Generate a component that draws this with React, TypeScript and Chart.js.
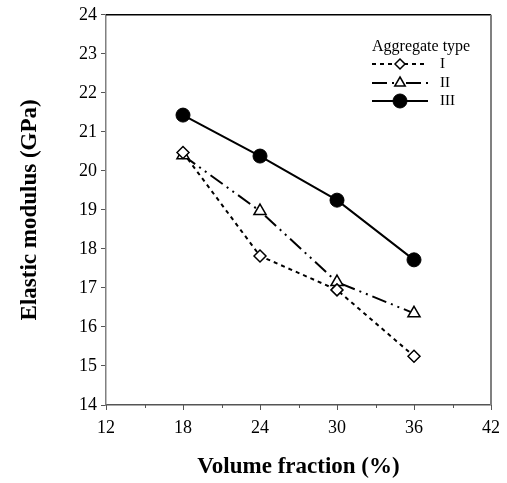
import React, { useEffect, useRef } from "react";
import { Chart, registerables } from "chart.js";

Chart.register(...registerables);

const volumeFraction = [18, 24, 30, 36];
const typeI = [20.47, 17.82, 16.95, 15.25];
const typeII = [20.4, 18.97, 17.15, 16.35];
const typeIII = [21.43, 20.38, 19.25, 17.72];
const seriesLabels = ["I", "II", "III"];
const legendTitle = "Aggregate type";
const xTitle = "Volume fraction (%)";
const yTitle = "Elastic modulus (GPa)";

const toPoints = (ys: number[]) => volumeFraction.map((x, i) => ({ x, y: ys[i] }));

const dashI = [4, 4];
const dashII = [15, 5, 2, 5, 2, 5];

const frameAndLegend = {
  id: "frameAndLegend",
  afterDraw(chart: any) {
    const ctx = chart.ctx;
    const { left, right, top, bottom } = chart.chartArea;
    ctx.save();
    ctx.strokeStyle = "#000";
    ctx.lineWidth = 1.5;
    ctx.beginPath();
    ctx.moveTo(left, top);
    ctx.lineTo(right, top);
    ctx.stroke();
    ctx.strokeStyle = "#808080";
    ctx.lineWidth = 2;
    ctx.beginPath();
    ctx.moveTo(right, top);
    ctx.lineTo(right, bottom);
    ctx.stroke();
    const xs = chart.scales.x;
    ctx.strokeStyle = "#555";
    ctx.lineWidth = 1;
    for (let v = 12; v <= 42; v += 3) {
      const px = Math.round(xs.getPixelForValue(v)) + 0.5;
      const len = v % 6 === 0 ? 5 : 3;
      ctx.beginPath();
      ctx.moveTo(px, bottom);
      ctx.lineTo(px, bottom + len);
      ctx.stroke();
    }
    // legend
    ctx.fillStyle = "#000";
    ctx.font = "16px 'Liberation Serif'";
    ctx.textBaseline = "middle";
    ctx.textAlign = "left";
    ctx.fillText(legendTitle, 372, 47);
    const ys = [64, 83, 101];
    chart.data.datasets.forEach((ds: any, i: number) => {
      const y = ys[i];
      ctx.save();
      ctx.strokeStyle = "#000";
      ctx.lineWidth = ds.borderWidth;
      ctx.setLineDash(ds.borderDash || []);
      ctx.beginPath();
      ctx.moveTo(372, y);
      ctx.lineTo(428, y);
      ctx.stroke();
      ctx.restore();
      ctx.save();
      ctx.lineWidth = ds.pointBorderWidth;
      ctx.strokeStyle = "#000";
      ctx.fillStyle = ds.pointBackgroundColor;
      const cx = 400;
      const r = ds.pointRadius - 1;
      ctx.beginPath();
      if (ds.pointStyle === "rectRot") {
        ctx.moveTo(cx, y - r);
        ctx.lineTo(cx + r, y);
        ctx.lineTo(cx, y + r);
        ctx.lineTo(cx - r, y);
        ctx.closePath();
      } else if (ds.pointStyle === "triangle") {
        ctx.moveTo(cx, y - r);
        ctx.lineTo(cx + r * 0.87, y + r * 0.5);
        ctx.lineTo(cx - r * 0.87, y + r * 0.5);
        ctx.closePath();
      } else {
        ctx.arc(cx, y, r + 1, 0, Math.PI * 2);
      }
      ctx.fill();
      ctx.stroke();
      ctx.restore();
      ctx.fillStyle = "#000";
      ctx.font = "15px 'Liberation Serif'";
      ctx.fillText(seriesLabels[i], 440, y);
    });
    ctx.restore();
  },
};

export default function App() {
  const ref = useRef<HTMLCanvasElement | null>(null);
  useEffect(() => {
    if (!ref.current) return;
    const chart = new Chart(ref.current, {
      type: "scatter",
      data: {
        datasets: [
          {
            label: seriesLabels[0],
            data: toPoints(typeI),
            showLine: true,
            borderColor: "#000",
            borderWidth: 2,
            borderDash: dashI,
            pointStyle: "rectRot",
            pointRadius: 6,
            pointBorderWidth: 1.5,
            pointBackgroundColor: "#fff",
            pointBorderColor: "#000",
          },
          {
            label: seriesLabels[1],
            data: toPoints(typeII),
            showLine: true,
            borderColor: "#000",
            borderWidth: 2,
            borderDash: dashII,
            pointStyle: "triangle",
            pointRadius: 7,
            pointBorderWidth: 1.5,
            pointBackgroundColor: "#fff",
            pointBorderColor: "#000",
          },
          {
            label: seriesLabels[2],
            data: toPoints(typeIII),
            showLine: true,
            borderColor: "#000",
            borderWidth: 2,
            pointStyle: "circle",
            pointRadius: 7,
            pointBorderWidth: 1,
            pointBackgroundColor: "#000",
            pointBorderColor: "#000",
          },
        ] as any,
      },
      options: {
        animation: false,
        responsive: false,
        layout: { padding: { top: 14, right: 16, left: 0, bottom: 0 } },
        plugins: { legend: { display: false }, tooltip: { enabled: false } },
        scales: {
          x: {
            type: "linear",
            min: 12,
            max: 42,
            afterFit: (s: any) => {
              s.height = 78;
            },
            afterBuildTicks: (s: any) => {
              s.ticks = [12, 18, 24, 30, 36, 42].map((v) => ({ value: v }));
            },
            border: { display: true, color: "#555", width: 1.5 },
            grid: { drawOnChartArea: false, tickLength: 5, tickColor: "transparent" },
            ticks: {
              color: "#000",
              padding: 7,
              font: { family: "'Liberation Serif'", size: 18 },
            },
            title: {
              display: true,
              text: xTitle,
              color: "#000",
              font: { family: "'Liberation Serif'", size: 23, weight: "bold" },
              padding: { top: 0, bottom: 2 },
            },
          },
          y: {
            type: "linear",
            min: 14,
            max: 24,
            afterFit: (s: any) => {
              s.width = 106;
            },
            border: { display: true, color: "#808080", width: 1.5 },
            grid: { drawOnChartArea: false, tickLength: 5, tickColor: "#555" },
            ticks: {
              stepSize: 1,
              color: "#000",
              padding: 4,
              font: { family: "'Liberation Serif'", size: 18 },
            },
            title: {
              display: true,
              text: yTitle,
              color: "#000",
              font: { family: "'Liberation Serif'", size: 23, weight: "bold" },
              padding: { top: 16, bottom: 0 },
            },
          },
        },
      } as any,
      plugins: [frameAndLegend],
    });
    return () => chart.destroy();
  }, []);
  return (
    <div style={{ position: "fixed", left: 0, top: 0, width: 507, height: 483, background: "#fff" }}>
      <canvas ref={ref} width={507} height={483} style={{ width: 507, height: 483 }} />
    </div>
  );
}
